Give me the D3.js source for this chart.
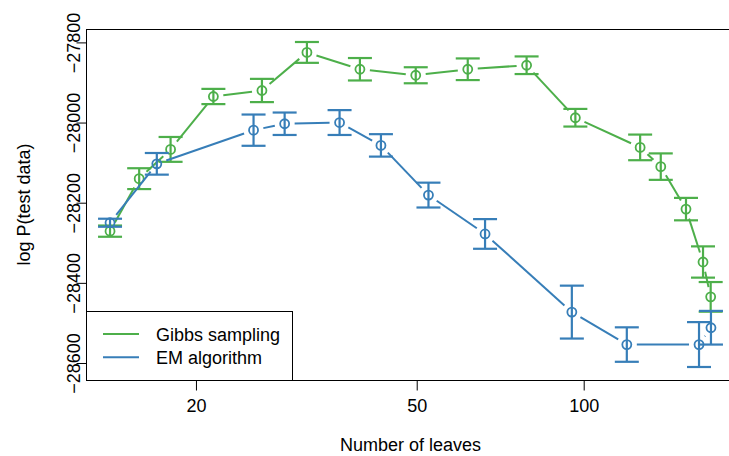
<!DOCTYPE html>
<html>
<head>
<meta charset="utf-8">
<script src="https://cdn.jsdelivr.net/npm/d3@7"></script>
<style>
  body { margin: 0; background: #fff; }
  svg { display: block; font-family: "Liberation Sans", Arial, Helvetica, sans-serif; }
</style>
</head>
<body>
<script>
let width = 729;
let height = 456;

let plotLeft = 86, plotRight = 735, plotTop = 29, plotBottom = 380;

// number of leaves, mean log P(test data), half length of the error bar
const gibbsLeaves = [14.0, 15.8, 18.0, 21.5, 26.3, 31.7, 39.5, 49.8, 61.8, 78.9, 96.6, 126.4, 137.7, 152.9, 164.1, 169.4];
const gibbsMean = [-28271, -28140, -28067, -27935, -27920, -27825, -27867, -27882, -27867, -27857, -27988, -28062, -28110, -28216, -28348, -28435];
const gibbsErr = [14, 26, 31, 19, 29, 26, 28, 20, 27, 22, 22, 32, 33, 28, 39, 37];

const emLeaves = [14.0, 17.0, 25.4, 28.9, 36.3, 43.1, 52.5, 66.4, 95.2, 119.6, 161.4, 169.6];
const emMean = [-28250, -28103, -28019, -28003, -28000, -28057, -28181, -28278, -28473, -28554, -28554, -28512];
const emErr = [10, 27, 39, 28, 31, 28, 31, 37, 66, 43, 56, 42];

const xTicks = [20, 50, 100];
const yTicks = [-28600, -28400, -28200, -28000, -27800];
const seriesNames = ["Gibbs sampling", "EM algorithm"];
const seriesColors = ["#4daf4a", "#377eb8"];

function makeSeries(xs, ms, es) {
  return xs.map((x, i) => ({x: x, y: ms[i], lo: ms[i] - es[i], hi: ms[i] + es[i]}));
}
let series = [
  makeSeries(gibbsLeaves, gibbsMean, gibbsErr),
  makeSeries(emLeaves, emMean, emErr)
];
let all = series[0].concat(series[1]);

// R style 4% padding of the ranges
let lx = d3.extent(all, d => Math.log10(d.x));
let px = (lx[1] - lx[0]) * 0.04;
let ly = [d3.min(all, d => d.lo), d3.max(all, d => d.hi)];
let py = (ly[1] - ly[0]) * 0.04;

let scaleX = d3.scaleLog()
  .domain([10 ** (lx[0] - px), 10 ** (lx[1] + px)])
  .range([plotLeft, plotRight]);
let scaleY = d3.scaleLinear()
  .domain([ly[0] - py, ly[1] + py])
  .range([plotBottom, plotTop]);

let svg = d3.select("body").append("svg")
  .attr("width", width)
  .attr("height", height);

// frame
svg.append("rect")
  .attr("x", plotLeft + 0.5).attr("y", plotTop + 0.5)
  .attr("width", plotRight - plotLeft).attr("height", plotBottom - plotTop)
  .attr("fill", "none").attr("stroke", "#000").attr("stroke-width", 1);

// axes
let axisX = d3.axisBottom(scaleX).tickValues(xTicks).tickFormat(d3.format("d"))
  .tickSize(10).tickPadding(9);
let axisY = d3.axisLeft(scaleY).tickValues(yTicks).tickSize(10)
  .tickFormat(d => String(d).replace("-", "\u2212"));

let gx = svg.append("g")
  .attr("transform", `translate(0, ${plotBottom + 0.5})`)
  .call(axisX);
gx.select(".domain").remove();
gx.selectAll("text").attr("font-size", 18).attr("font-family", null).attr("fill", "#000");

let gy = svg.append("g")
  .attr("transform", `translate(${plotLeft + 0.5}, 0)`)
  .call(axisY);
gy.select(".domain").remove();
gy.selectAll("text")
  .attr("font-size", 18).attr("font-family", null).attr("fill", "#000")
  .attr("x", null).attr("dy", null)
  .attr("text-anchor", "middle")
  .attr("transform", "translate(-7, 0) rotate(-90)");

svg.append("text")
  .attr("x", (plotLeft + plotRight) / 2).attr("y", 451)
  .attr("text-anchor", "middle").attr("font-size", 18)
  .text("Number of leaves");

svg.append("text")
  .attr("transform", `translate(30, ${(plotTop + plotBottom) / 2}) rotate(-90)`)
  .attr("text-anchor", "middle").attr("font-size", 18)
  .text("log P(test data)");

// type="b" lines: segments stop short of each point
let gap = 10;
let capHalf = 12;

series.forEach((data, k) => {
  let col = seriesColors[k];
  let g = svg.append("g");
  let segs = [];
  for (let i = 1; i < data.length; i++) {
    let x0 = scaleX(data[i - 1].x), y0 = scaleY(data[i - 1].y);
    let x1 = scaleX(data[i].x), y1 = scaleY(data[i].y);
    let d = Math.hypot(x1 - x0, y1 - y0);
    if (d > 2 * gap) {
      let ux = (x1 - x0) / d, uy = (y1 - y0) / d;
      segs.push([x0 + ux * gap, y0 + uy * gap, x1 - ux * gap, y1 - uy * gap]);
    }
  }
  g.selectAll("line.seg").data(segs).enter().append("line")
    .attr("x1", d => d[0]).attr("y1", d => d[1])
    .attr("x2", d => d[2]).attr("y2", d => d[3])
    .attr("stroke", col).attr("stroke-width", 2);

  g.selectAll("circle").data(data).enter().append("circle")
    .attr("cx", d => scaleX(d.x)).attr("cy", d => scaleY(d.y))
    .attr("r", 4.5)
    .attr("fill", "none").attr("stroke", col).attr("stroke-width", 1.8);

  // error bars
  let bars = g.selectAll("g.bar").data(data).enter().append("g");
  bars.append("line")
    .attr("x1", d => scaleX(d.x)).attr("x2", d => scaleX(d.x))
    .attr("y1", d => scaleY(d.lo)).attr("y2", d => scaleY(d.hi))
    .attr("stroke", col).attr("stroke-width", 2.2);
  ["lo", "hi"].forEach(key => {
    bars.append("line")
      .attr("x1", d => scaleX(d.x) - capHalf).attr("x2", d => scaleX(d.x) + capHalf)
      .attr("y1", d => scaleY(d[key])).attr("y2", d => scaleY(d[key]))
      .attr("stroke", col).attr("stroke-width", 2.2);
  });
});

// legend, bottom left corner of the plot
let legend = svg.append("g");
legend.append("rect")
  .attr("x", plotLeft + 0.5).attr("y", 311.5)
  .attr("width", 206).attr("height", plotBottom - 311)
  .attr("fill", "#fff").attr("stroke", "#000").attr("stroke-width", 1);

seriesNames.forEach((name, i) => {
  let y = 334 + i * 23.3;
  legend.append("line")
    .attr("x1", 103).attr("x2", 139)
    .attr("y1", y).attr("y2", y)
    .attr("stroke", seriesColors[i]).attr("stroke-width", 2);
  legend.append("text")
    .attr("x", 156).attr("y", y + 6.5)
    .attr("font-size", 18)
    .text(name);
});
</script>
</body>
</html>
